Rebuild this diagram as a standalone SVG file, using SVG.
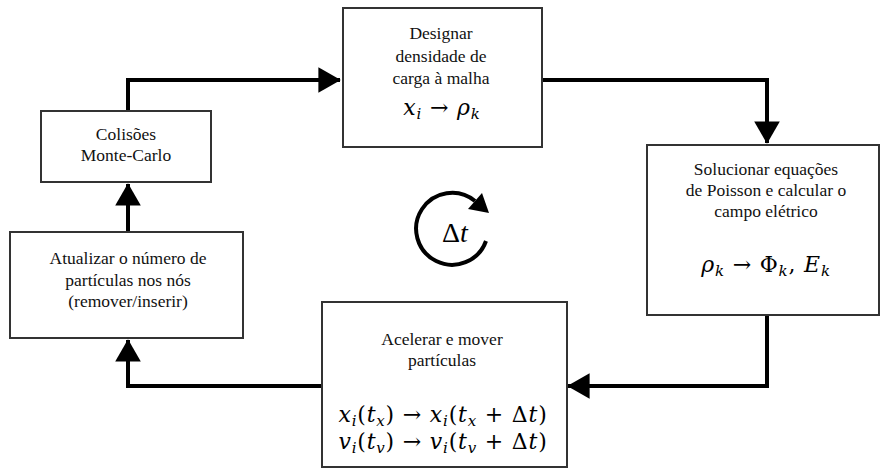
<svg xmlns="http://www.w3.org/2000/svg" width="881" height="468" viewBox="0 0 881 468">
<style>
.box{fill:#fff;stroke:#333;stroke-width:2}
.t{font-family:"Liberation Serif",serif;font-size:17.5px;fill:#111;text-anchor:middle}
.m{font-family:"DejaVu Serif",serif;font-size:22px;fill:#000;text-anchor:middle;font-style:italic;letter-spacing:0.8px}
.s{font-size:15px}
.u{font-style:normal}
.c{fill:none;stroke:#000;stroke-width:4}
</style>
<defs>
<marker id="ah" markerWidth="6" markerHeight="7" refX="5.4" refY="3.2" orient="auto" markerUnits="strokeWidth"><path d="M0,0 L5.6,3.2 L0,6.4 Z" fill="#000"/></marker>
</defs>
<rect width="881" height="468" fill="#fff"/>
<g id="connectors">
<path class="c" d="M128,111 V80 H340" marker-end="url(#ah)"/>
<path class="c" d="M542,80 H767 V143" marker-end="url(#ah)"/>
<path class="c" d="M767,315 V386 H568" marker-end="url(#ah)"/>
<path class="c" d="M322,386 H128 V340" marker-end="url(#ah)"/>
<path class="c" d="M128,232 V184" marker-end="url(#ah)"/>
</g>
<g id="top">
<rect class="box" x="343" y="8" width="199" height="139"/>
<text class="t" x="441" y="39">Designar</text>
<text class="t" x="441" y="62">densidade de</text>
<text class="t" x="441" y="84">carga à malha</text>
<text class="m" x="442" y="115">x<tspan class="s" dy="4">i</tspan><tspan class="u" dy="-4"> → </tspan>ρ<tspan class="s" dy="4">k</tspan></text>
</g>
<g id="right">
<rect class="box" x="647" y="145" width="232" height="170"/>
<text class="t" x="766" y="175">Solucionar equações</text>
<text class="t" x="766" y="196">de Poisson e calcular o</text>
<text class="t" x="766" y="217">campo elétrico</text>
<text class="m" x="766" y="272">ρ<tspan class="s" dy="4">k</tspan><tspan class="u" dy="-4"> → Φ</tspan><tspan class="s" dy="4">k</tspan><tspan class="u" dy="-4">, </tspan>E<tspan class="s" dy="4">k</tspan></text>
</g>
<g id="bottom">
<rect class="box" x="322" y="302" width="245" height="165"/>
<text class="t" x="442" y="345">Acelerar e mover</text>
<text class="t" x="442" y="366">partículas</text>
<text class="m" x="443" y="422">x<tspan class="s" dy="4">i</tspan><tspan class="u" dy="-4">(</tspan>t<tspan class="s" dy="4">x</tspan><tspan class="u" dy="-4">) → </tspan>x<tspan class="s" dy="4">i</tspan><tspan class="u" dy="-4">(</tspan>t<tspan class="s" dy="4">x</tspan><tspan class="u" dy="-4"> + Δ</tspan>t<tspan class="u">)</tspan></text>
<text class="m" x="443" y="449">v<tspan class="s" dy="4">i</tspan><tspan class="u" dy="-4">(</tspan>t<tspan class="s" dy="4">v</tspan><tspan class="u" dy="-4">) → </tspan>v<tspan class="s" dy="4">i</tspan><tspan class="u" dy="-4">(</tspan>t<tspan class="s" dy="4">v</tspan><tspan class="u" dy="-4"> + Δ</tspan>t<tspan class="u">)</tspan></text>
</g>
<g id="colisoes">
<rect class="box" x="41" y="111" width="170" height="71"/>
<text class="t" x="126" y="140">Colisões</text>
<text class="t" x="126" y="161">Monte-Carlo</text>
</g>
<g id="atualizar">
<rect class="box" x="10" y="232" width="233" height="106"/>
<text class="t" x="128" y="264">Atualizar o número de</text>
<text class="t" x="128" y="286">partículas nos nós</text>
<text class="t" x="128" y="307">(remover/inserir)</text>
</g>
<g id="cycle">
<path d="M486,241 A36,36 0 1 1 475,201" fill="none" stroke="#000" stroke-width="4"/>
<polygon points="482,193 489,213 468,209" fill="#000"/>
<text x="455" y="242" font-family="Liberation Serif,serif" font-size="28" text-anchor="middle">Δ<tspan font-style="italic">t</tspan></text>
</g>
</svg>
